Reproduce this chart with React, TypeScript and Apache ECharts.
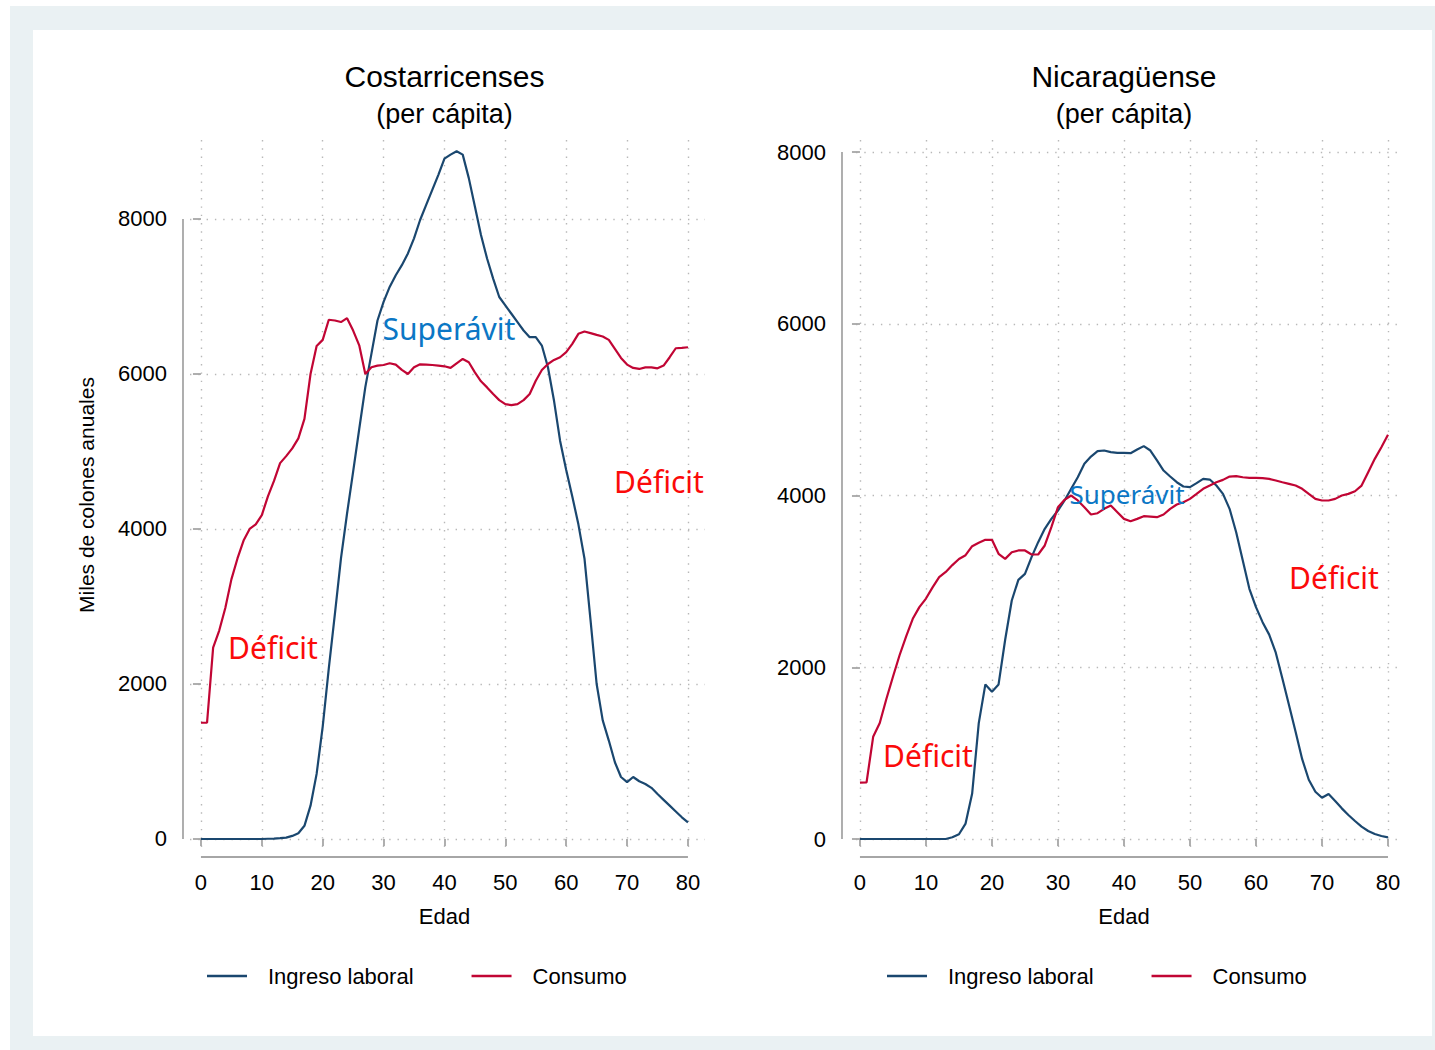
import { useEffect, useRef } from "react";
import * as echarts from "echarts";

// ---------- data ----------
const edad = [
  0, 1, 2, 3, 4, 5, 6, 7, 8, 9, 10, 11, 12, 13, 14, 15, 16, 17, 18, 19, 20,
  21, 22, 23, 24, 25, 26, 27, 28, 29, 30, 31, 32, 33, 34, 35, 36, 37, 38, 39, 40,
  41, 42, 43, 44, 45, 46, 47, 48, 49, 50, 51, 52, 53, 54, 55, 56, 57, 58, 59, 60,
  61, 62, 63, 64, 65, 66, 67, 68, 69, 70, 71, 72, 73, 74, 75, 76, 77, 78, 79, 80,
];

const crIngreso = [
  0, 0, 0, 0, 0, 0, 0, 0, 0, 0, 0,
  3, 5, 10, 17, 40, 75, 170, 430, 840, 1450,
  2200, 2900, 3620, 4200, 4740, 5290, 5830, 6260, 6690, 6930,
  7123, 7274, 7404, 7555, 7750, 7987, 8181, 8376, 8570, 8778,
  8830, 8873, 8830, 8527, 8160, 7793, 7490, 7231, 6993, 6885,
  6777, 6669, 6561, 6475, 6475, 6367, 6086, 5654, 5136, 4760,
  4420, 4060, 3620, 2820, 2000, 1530, 1270, 990, 800, 735,
  800, 745, 710, 660, 580, 505, 430, 355, 280, 215,
];

const crConsumo = [
  1500, 1500, 2470, 2690, 2980, 3350, 3620, 3850, 4000, 4060, 4180,
  4420, 4620, 4850, 4940, 5040, 5170, 5420, 6000, 6360, 6440,
  6700, 6690, 6670, 6720, 6560, 6370, 6000, 6086, 6108, 6116,
  6138, 6121, 6052, 6000, 6086, 6125, 6121, 6116, 6108, 6099,
  6078, 6138, 6194, 6151, 6021, 5905, 5827, 5741, 5663, 5611,
  5598, 5611, 5663, 5741, 5913, 6052, 6129, 6181, 6216, 6281,
  6389, 6518, 6548, 6527, 6505, 6484, 6440, 6324, 6207, 6121,
  6078, 6065, 6086, 6086, 6073, 6108, 6216, 6332, 6337, 6345,
];

const niIngreso = [
  0, 0, 0, 0, 0, 0, 0, 0, 0, 0, 0,
  0, 0, 0, 20, 55, 180, 530, 1350, 1800, 1716,
  1800, 2320, 2777, 3018, 3088, 3282, 3457, 3612, 3728, 3825,
  3942, 4078, 4213, 4369, 4454, 4516, 4524, 4505, 4497, 4497,
  4493, 4536, 4575, 4524, 4408, 4291, 4221, 4155, 4105, 4097,
  4144, 4194, 4186, 4116, 4019, 3845, 3573, 3243, 2913, 2700,
  2525, 2380, 2170, 1870, 1560, 1250, 930, 690, 551, 481,
  524, 443, 357, 280, 210, 144, 93, 58, 35, 19,
];

const niConsumo = [
  656, 660, 1190, 1350, 1630, 1890, 2140, 2360, 2564, 2700, 2800,
  2930, 3049, 3110, 3190, 3260, 3305, 3410, 3450, 3484, 3484,
  3321, 3262, 3340, 3360, 3360, 3313, 3313, 3418, 3631, 3864,
  3950, 4000, 3942, 3864, 3779, 3794, 3845, 3884, 3806, 3728,
  3701, 3728, 3759, 3755, 3748, 3779, 3845, 3895, 3922, 3961,
  4019, 4078, 4116, 4155, 4182, 4221, 4225, 4213, 4206, 4206,
  4202, 4194, 4175, 4155, 4136, 4116, 4078, 4019, 3961, 3942,
  3942, 3961, 4000, 4019, 4050, 4116, 4272, 4427, 4563, 4707,
];

const xTicks = [0, 10, 20, 30, 40, 50, 60, 70, 80];
const yTicks = [0, 2000, 4000, 6000, 8000];

const panelTitles = ["Costarricenses", "Nicaragüense"];
const subTitle = "(per cápita)";
const seriesNames = ["Ingreso laboral", "Consumo"];
const xName = "Edad";
const yName = "Miles de colones anuales";

// ---------- styles / layout ----------
const FONT = '"Liberation Sans", Arial, Helvetica, sans-serif';
const ANNOT_FONT = '"Noto Sans", "Open Sans", sans-serif';
const NAVY = "#1a476f";
const RED = "#c10534";
const SUP = "#0b77c5";
const DEF = "#fb0a0a";
const AXIS = "#a6a6a6";
const GRIDC = "#b8b8b8";

const panels = [
  {
    left: 190, top: 140, width: 515, height: 710,
    xMin: -1.8, xMax: 82.8, yMin: -142, yMax: 9019,
    yOff: 7, xOff: 7, legendLeft: 207, cx: 444.5,
    ing: crIngreso, con: crConsumo, title: panelTitles[0],
  },
  {
    left: 856, top: 140, width: 544, height: 710,
    xMin: -0.6, xMax: 81.82, yMin: -128, yMax: 8140,
    yOff: 14, xOff: 7, legendLeft: 887, cx: 1124,
    ing: niIngreso, con: niConsumo, title: panelTitles[1],
  },
];

const annotations = [
  { text: "Superávit", x: 449, y: 328, size: 30, color: SUP },
  { text: "Déficit", x: 273, y: 647, size: 30, color: DEF },
  { text: "Déficit", x: 659, y: 481, size: 30, color: DEF },
  { text: "Superávit", x: 1127, y: 494, size: 26, color: SUP },
  { text: "Déficit", x: 1334, y: 577, size: 30, color: DEF },
  { text: "Déficit", x: 928, y: 755, size: 30, color: DEF },
];

function pairs(ys: number[]) {
  return edad.map((a, i) => [a, ys[i]]);
}

export default function App() {
  const ref = useRef<HTMLDivElement>(null);

  useEffect(() => {
    if (!ref.current) return;
    const chart = echarts.init(ref.current, undefined, { renderer: "svg" });

    const grid = panels.map((p) => ({
      left: p.left, top: p.top, width: p.width, height: p.height,
      outerBoundsMode: "none",
      containLabel: false,
    }));

    const splitLine = {
      show: true,
      lineStyle: { color: GRIDC, width: 1.4, type: [1.4, 6.9] },
    };

    const xAxis = panels.map((p, i) => ({
      type: "value",
      gridIndex: i,
      min: p.xMin,
      max: p.xMax,
      position: "bottom",
      offset: p.xOff,
      axisLine: { show: false },
      axisTick: {
        show: true, length: 7, customValues: xTicks,
        lineStyle: { color: AXIS, width: 1.8 },
      },
      axisLabel: {
        customValues: xTicks, margin: 14, fontSize: 22,
        color: "#000", fontFamily: FONT,
        formatter: (v: number) => String(v),
      },
      splitLine,
    }));

    const yAxis = panels.map((p, i) => ({
      type: "value",
      gridIndex: i,
      min: p.yMin,
      max: p.yMax,
      position: "left",
      offset: p.yOff,
      axisLine: { show: false },
      axisTick: {
        show: true, length: 8, customValues: yTicks,
        lineStyle: { color: AXIS, width: 1.8 },
      },
      axisLabel: {
        customValues: yTicks, margin: 16, fontSize: 22,
        color: "#000", fontFamily: FONT,
        formatter: (v: number) => String(v),
      },
      splitLine,
    }));

    const series: any[] = [];
    panels.forEach((p, i) => {
      series.push({
        type: "line", name: seriesNames[0], xAxisIndex: i, yAxisIndex: i,
        data: pairs(p.ing), showSymbol: false, symbol: "none", color: NAVY,
        lineStyle: { color: NAVY, width: 2.2 }, z: 3,
      });
      series.push({
        type: "line", name: seriesNames[1], xAxisIndex: i, yAxisIndex: i,
        data: pairs(p.con), showSymbol: false, symbol: "none", color: RED,
        lineStyle: { color: RED, width: 2.2 }, z: 4,
      });
    });

    const legend = panels.map((p) => ({
      left: p.legendLeft,
      top: 964,
      padding: 0,
      orient: "horizontal",
      icon: "rect",
      itemWidth: 40,
      itemHeight: 2.5,
      itemGap: 58,
      selectedMode: false,
      data: seriesNames,
      textStyle: {
        fontSize: 22, color: "#000", fontFamily: FONT,
        lineHeight: 24, padding: [0, 0, 0, 16],
      },
    }));

    chart.setOption({
      animation: false,
      backgroundColor: "transparent",
      grid, xAxis, yAxis, series, legend,
    });

    const graphic: any[] = [];
    panels.forEach((p, i) => {
      const yAxisX = p.left - p.yOff;
      const xAxisY = p.top + p.height + p.xOff;
      const yTop = chart.convertToPixel({ yAxisIndex: i }, yTicks[yTicks.length - 1]) as number;
      const yBot = chart.convertToPixel({ yAxisIndex: i }, yTicks[0]) as number;
      const xL = chart.convertToPixel({ xAxisIndex: i }, xTicks[0]) as number;
      const xR = chart.convertToPixel({ xAxisIndex: i }, xTicks[xTicks.length - 1]) as number;
      graphic.push({
        type: "line",
        shape: { x1: yAxisX, y1: yTop, x2: yAxisX, y2: yBot },
        style: { stroke: AXIS, lineWidth: 1.8 },
      });
      graphic.push({
        type: "line",
        shape: { x1: xL, y1: xAxisY, x2: xR, y2: xAxisY },
        style: { stroke: AXIS, lineWidth: 1.8 },
      });
      graphic.push({
        type: "text", x: (xL + xR) / 2, y: 916,
        style: {
          text: xName, fontSize: 22, fontFamily: FONT, fill: "#000",
          align: "center", verticalAlign: "middle",
        },
      });
      graphic.push({
        type: "text", x: p.cx, y: 76,
        style: {
          text: p.title, fontSize: 30, fontFamily: FONT, fill: "#000",
          align: "center", verticalAlign: "middle",
        },
      });
      graphic.push({
        type: "text", x: p.cx, y: 114,
        style: {
          text: subTitle, fontSize: 27, fontFamily: FONT, fill: "#000",
          align: "center", verticalAlign: "middle",
        },
      });
    });
    graphic.push({
      type: "text", x: 86, y: 495, rotation: Math.PI / 2,
      style: {
        text: yName, fontSize: 21, fontFamily: FONT, fill: "#000",
        align: "center", verticalAlign: "middle",
      },
    });
    annotations.forEach((a) => {
      graphic.push({
        type: "text", x: a.x, y: a.y, z: 10,
        style: {
          text: a.text, fontSize: a.size, fontFamily: ANNOT_FONT, fill: a.color,
          align: "center", verticalAlign: "middle",
        },
      });
    });

    chart.setOption({ graphic });

    return () => chart.dispose();
  }, []);

  return (
    <div style={{ position: "fixed", left: 0, top: 0, width: 1435, height: 1050, background: "#fff" }}>
      <div style={{ position: "absolute", left: 10, top: 6, width: 1425, height: 1044, background: "#eaf1f3" }} />
      <div style={{ position: "absolute", left: 33, top: 30, width: 1399, height: 1006, background: "#fff" }} />
      <div ref={ref} style={{ position: "absolute", left: 0, top: 0, width: 1435, height: 1050 }} />
    </div>
  );
}
